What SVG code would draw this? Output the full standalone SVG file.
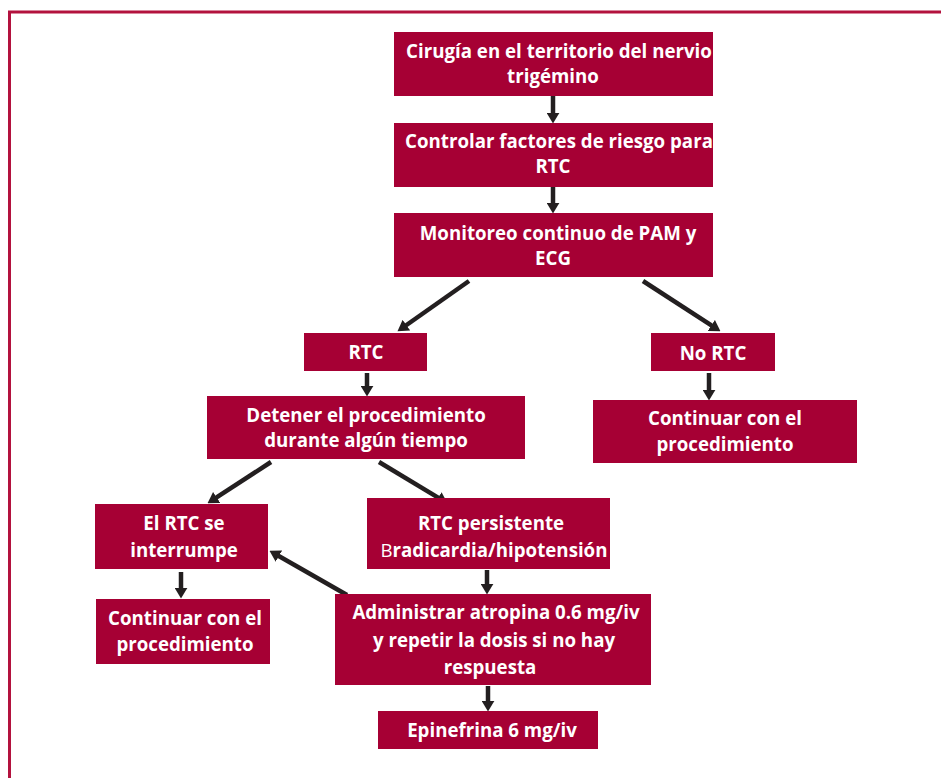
<svg xmlns="http://www.w3.org/2000/svg" width="941" height="778" viewBox="0 0 941 778">
<style>
.box{fill:#A60034;}
.t{font-family:"Open Sans","Liberation Sans",sans-serif;font-weight:bold;font-size:18.7px;fill:#fff;text-anchor:middle;}
.c{stroke:#231F20;stroke-width:4.5;fill:none;marker-end:url(#ah);}
</style>
<defs>
<marker id="ah" viewBox="0 0 10 12" markerWidth="11" markerHeight="13" refX="3" refY="6" orient="auto" markerUnits="userSpaceOnUse">
<path d="M0,0 L10,6 L0,12 z" fill="#231F20"/>
</marker>
</defs>
<rect width="941" height="778" fill="#fff"/>
<path d="M9.5,778 V12 H941" fill="none" stroke="#B3123E" stroke-width="3"/>
<g id="connectors">
<line class="c" x1="553" y1="96" x2="553" y2="116"/>
<line class="c" x1="553" y1="187" x2="553" y2="206"/>
<line class="c" x1="469" y1="281" x2="403.7" y2="327"/>
<line class="c" x1="643" y1="281" x2="714.1" y2="327.2"/>
<line class="c" x1="367" y1="373" x2="367" y2="389"/>
<line class="c" x1="709" y1="373" x2="709" y2="393"/>
<line class="c" x1="271" y1="462" x2="213.9" y2="499.2"/>
<line class="c" x1="379" y1="462" x2="441" y2="499.4"/>
<line class="c" x1="181" y1="572" x2="181" y2="591"/>
<line class="c" x1="487" y1="570" x2="487" y2="587"/>
<line class="c" x1="347" y1="595" x2="276.1" y2="554.5"/>
<line class="c" x1="488" y1="686" x2="488" y2="704"/>
</g>
<g id="n1"><rect class="box" x="394" y="32" width="319" height="64"/>
<text class="t" x="559" y="58">Cirugía en el territorio del nervio</text>
<text class="t" x="553" y="83">trigémino</text></g>
<g id="n2"><rect class="box" x="394" y="123" width="319" height="64"/>
<text class="t" x="559" y="148">Controlar factores de riesgo para</text>
<text class="t" x="553" y="173">RTC</text></g>
<g id="n3"><rect class="box" x="394" y="213" width="319" height="64"/>
<text class="t" x="558" y="240">Monitoreo continuo de PAM y</text>
<text class="t" x="553" y="265">ECG</text></g>
<g id="n4"><rect class="box" x="304" y="333" width="123" height="38"/>
<text class="t" x="366" y="359">RTC</text></g>
<g id="n5"><rect class="box" x="651" y="333" width="124" height="38"/>
<text class="t" x="713" y="360">No RTC</text></g>
<g id="n6"><rect class="box" x="207" y="396" width="318" height="63"/>
<text class="t" x="366" y="422">Detener el procedimiento</text>
<text class="t" x="366" y="447">durante algún tiempo</text></g>
<g id="n7"><rect class="box" x="593" y="400" width="264" height="63"/>
<text class="t" x="725" y="425">Continuar con el</text>
<text class="t" x="725" y="451">procedimiento</text></g>
<g id="n8"><rect class="box" x="95" y="504" width="173" height="65"/>
<text class="t" x="184" y="530">El RTC se</text>
<text class="t" x="184" y="557">interrumpe</text></g>
<g id="n9"><rect class="box" x="367" y="498" width="243" height="71"/>
<text class="t" x="491" y="530">RTC persistente</text>
<text class="t" x="494" y="557"><tspan font-weight="normal">B</tspan>radicardia/hipotensión</text></g>
<g id="n10"><rect class="box" x="96" y="599" width="174" height="65"/>
<text class="t" x="185" y="625">Continuar con el</text>
<text class="t" x="185" y="651">procedimiento</text></g>
<g id="n11"><rect class="box" x="335" y="594" width="316" height="91"/>
<text class="t" x="496" y="619">Administrar atropina 0.6 mg/iv</text>
<text class="t" x="494" y="647">y repetir la dosis si no hay</text>
<text class="t" x="490" y="674">respuesta</text></g>
<g id="n12"><rect class="box" x="378" y="711" width="220" height="38"/>
<text class="t" x="492" y="737">Epinefrina 6 mg/iv</text></g>
</svg>
